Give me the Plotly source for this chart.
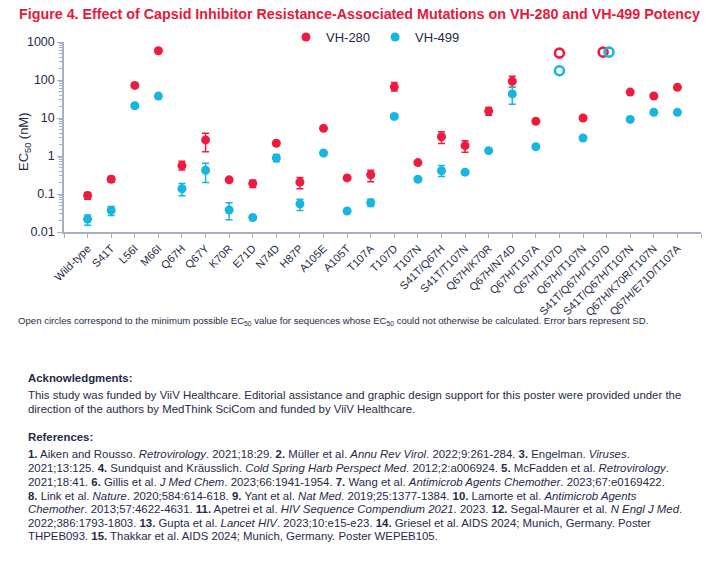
import plotly.graph_objects as go

# ---------------- data ----------------
categories = ["Wild-type", "S41T", "L56I", "M66I", "Q67H", "Q67Y", "K70R", "E71D",
              "N74D", "H87P", "A105E", "A105T", "T107A", "T107D", "T107N",
              "S41T/Q67H", "S41T/T107N", "Q67H/K70R", "Q67H/N74D", "Q67H/T107A",
              "Q67H/T107D", "Q67H/T107N", "S41T/Q67H/T107D", "S41T/Q67H/T107N",
              "Q67H/K70R/T107N", "Q67H/E71D/T107A"]

vh280 = [0.092, 0.245, 72, 590, 0.56, 2.65, 0.236, 0.19, 2.16, 0.205, 5.35, 0.265,
         0.32, 66, 0.67, 3.2, 1.87, 15.2, 93, 8.2, 510, 10, 540, 48, 38, 64]
vh280_err_plus = [0.017, 0.043, 0, 0, 0.17, 1.3, 0.02, 0.04, 0.25, 0.065, 0, 0,
                  0.1, 20, 0, 1.14, 0.66, 3.8, 33, 0, 0, 0, 0, 0, 0, 0]
vh280_err_minus = [0.019, 0.04, 0, 0, 0.13, 1.35, 0.02, 0.042, 0.25, 0.068, 0, 0,
                   0.11, 15, 0, 1.06, 0.61, 3.3, 29, 0, 0, 0, 0, 0, 0, 0]
vh280_open = [False] * 20 + [True, False, True, False, False, False]

vh499 = [0.022, 0.037, 21, 37.7, 0.137, 0.42, 0.038, 0.024, 0.89, 0.055, 1.2, 0.0356,
         0.059, 11, 0.245, 0.41, 0.375, 1.38, 43, 1.76, 175, 2.98, 540, 9.2, 14.1, 14.1]
vh499_err_plus = [0.006, 0.01, 0, 0, 0.053, 0.225, 0.021, 0.003, 0.2, 0.018, 0, 0,
                  0.014, 1.5, 0, 0.15, 0.05, 0, 21, 0, 0, 0, 0, 0, 0, 0]
vh499_err_minus = [0.007, 0.01, 0, 0, 0.047, 0.22, 0.017, 0.003, 0.18, 0.018, 0, 0,
                   0.012, 1.5, 0, 0.12, 0.05, 0, 20, 0, 0, 0, 0, 0, 0, 0]
vh499_open = [False] * 20 + [True, False, True, False, False, False]

y_tick_values = [0.01, 0.1, 1, 10, 100, 1000]
y_tick_labels = ["0.01", "0.1", "1", "10", "100", "1000"]

# ---------------- style ----------------
RED = "#EE1B3F"
BLUE = "#17B5DF"
NAVY = "#1F2A48"
AXIS = "#A7AFC4"
FONT = "Liberation Sans, Arial, sans-serif"

W, H = 726, 570
L, R, T, B = 64, 25, 41.7, 337.7
PH = H - T - B
PW = W - L - R

def px_x(x):
    return (x - L) / PW

def px_y(y):
    return (H - B - y) / PH

# small horizontal separation where open circles coincide
shift = {22: (-0.15, 0.10)}

fig = go.Figure()

def add_series(name, vals, ep, em, opn, color, k):
    xs_f, ys_f, ep_f, em_f = [], [], [], []
    xs_o, ys_o = [], []
    for i, v in enumerate(vals):
        x = i + shift.get(i, (0, 0))[k]
        if opn[i]:
            xs_o.append(x); ys_o.append(v)
        else:
            xs_f.append(x); ys_f.append(v); ep_f.append(ep[i]); em_f.append(em[i])
    fig.add_trace(go.Scatter(
        x=xs_f, y=ys_f, mode="markers", name=name,
        marker=dict(color=color, size=9, line=dict(width=0)),
        error_y=dict(type="data", array=ep_f, arrayminus=em_f, symmetric=False,
                     color=color, thickness=1.5, width=3.5),
        legendgroup=name, showlegend=True))
    fig.add_trace(go.Scatter(
        x=xs_o, y=ys_o, mode="markers", name=name,
        marker=dict(color=color, size=9, symbol="circle-open", line=dict(width=2.6, color=color)),
        legendgroup=name, showlegend=False))

add_series("VH-280", vh280, vh280_err_plus, vh280_err_minus, vh280_open, RED, 0)
add_series("VH-499", vh499, vh499_err_plus, vh499_err_minus, vh499_open, BLUE, 1)

fig.update_xaxes(
    automargin=False,
    range=[-1, len(categories)], tickmode="array", tickvals=list(range(len(categories))),
    ticktext=categories,
    tickangle=-45, ticks="outside", ticklen=4, tickcolor=AXIS, tickwidth=1,
    minor=dict(tickmode="array", tickvals=[-1, len(categories)], ticks="outside", ticklen=4,
               tickcolor=AXIS, tickwidth=1, showgrid=False),
    showline=True, linecolor=AXIS, linewidth=1.5, showgrid=False, zeroline=False,
    tickfont=dict(family=FONT, size=11, color=NAVY))

minor_vals = []
for d in [0.01, 0.1, 1, 10, 100]:
    for m in range(2, 10):
        minor_vals.append(d * m)

fig.update_yaxes(
    automargin=False,
    type="log", range=[-2, 3], tickmode="array", tickvals=y_tick_values, ticktext=y_tick_labels,
    ticks="outside", ticklen=5, tickcolor=AXIS, tickwidth=1,
    minor=dict(tickmode="array", tickvals=minor_vals, ticks="outside", ticklen=3,
               tickcolor=AXIS, tickwidth=1, showgrid=False),
    showline=True, linecolor=AXIS, linewidth=1.5, showgrid=False, zeroline=False,
    tickfont=dict(family=FONT, size=12.5, color=NAVY))

annotations = []
annotations.append(dict(
    x=px_x(25), y=px_y(142), xref="paper", yref="paper", xanchor="center", yanchor="middle",
    text="EC<sub>50</sub> (nM)", textangle=-90, showarrow=False,
    font=dict(family=FONT, size=13, color=NAVY)))
annotations.append(dict(
    x=px_x(17), y=px_y(14), xref="paper", yref="paper", xanchor="left", yanchor="middle",
    text="<b>Figure 4. Effect of Capsid Inhibitor Resistance-Associated Mutations on VH-280 and VH-499 Potency</b>",
    showarrow=False, font=dict(family=FONT, size=14.3, color="#E8173C")))
annotations.append(dict(
    x=px_x(16), y=px_y(322), xref="paper", yref="paper", xanchor="left", yanchor="middle",
    text="Open circles correspond to the minimum possible EC<sub>50</sub> value for sequences whose "
         "EC<sub>50</sub> could not otherwise be calculated. Error bars represent SD.",
    showarrow=False, font=dict(family=FONT, size=9.6, color=NAVY)))

text_lines = [
    (379, "<b>Acknowledgments:</b>"),
    (395.7, "This study was funded by ViiV Healthcare. Editorial assistance and graphic design support for this poster were provided under the"),
    (410, "direction of the authors by MedThink SciCom and funded by ViiV Healthcare."),
    (438.3, "<b>References:</b>"),
    (455.3, "<b>1.</b> Aiken and Rousso. <i>Retrovirology</i>. 2021;18:29. <b>2.</b> Müller et al. <i>Annu Rev Virol</i>. 2022;9:261-284. <b>3.</b> Engelman. <i>Viruses</i>."),
    (469.3, "2021;13:125. <b>4.</b> Sundquist and Kräusslich. <i>Cold Spring Harb Perspect Med</i>. 2012;2:a006924. <b>5.</b> McFadden et al. <i>Retrovirology</i>."),
    (483, "2021;18:41. <b>6.</b> Gillis et al. <i>J Med Chem</i>. 2023;66:1941-1954. <b>7.</b> Wang et al. <i>Antimicrob Agents Chemother</i>. 2023;67:e0169422."),
    (496.7, "<b>8.</b> Link et al. <i>Nature</i>. 2020;584:614-618. <b>9.</b> Yant et al. <i>Nat Med</i>. 2019;25:1377-1384. <b>10.</b> Lamorte et al. <i>Antimicrob Agents</i>"),
    (510.3, "<i>Chemother</i>. 2013;57:4622-4631. <b>11.</b> Apetrei et al. <i>HIV Sequence Compendium 2021</i>. 2023. <b>12.</b> Segal-Maurer et al. <i>N Engl J Med</i>."),
    (524, "2022;386:1793-1803. <b>13.</b> Gupta et al. <i>Lancet HIV</i>. 2023;10:e15-e23. <b>14.</b> Griesel et al. AIDS 2024; Munich, Germany. Poster"),
    (537.7, "THPEB093. <b>15.</b> Thakkar et al. AIDS 2024; Munich, Germany. Poster WEPEB105."),
]
for yy, txt in text_lines:
    annotations.append(dict(
        x=px_x(26), y=px_y(yy), xref="paper", yref="paper", xanchor="left", yanchor="middle",
        text=txt, showarrow=False, font=dict(family=FONT, size=11.4, color=NAVY)))

fig.update_layout(
    width=W, height=H, margin=dict(l=L, r=R, t=T, b=B, pad=0, autoexpand=False),
    paper_bgcolor="white", plot_bgcolor="white",
    font=dict(family=FONT, color=NAVY),
    showlegend=True,
    legend=dict(orientation="h", x=px_x(286), y=px_y(36.7), xanchor="left", yanchor="middle",
                font=dict(family=FONT, size=13, color=NAVY), bgcolor="rgba(0,0,0,0)",
                borderwidth=0, itemsizing="trace", tracegroupgap=0),
    annotations=annotations)

fig.write_html("out.html", config={"displayModeBar": False},
               post_script="document.body.style.margin='0px';")
